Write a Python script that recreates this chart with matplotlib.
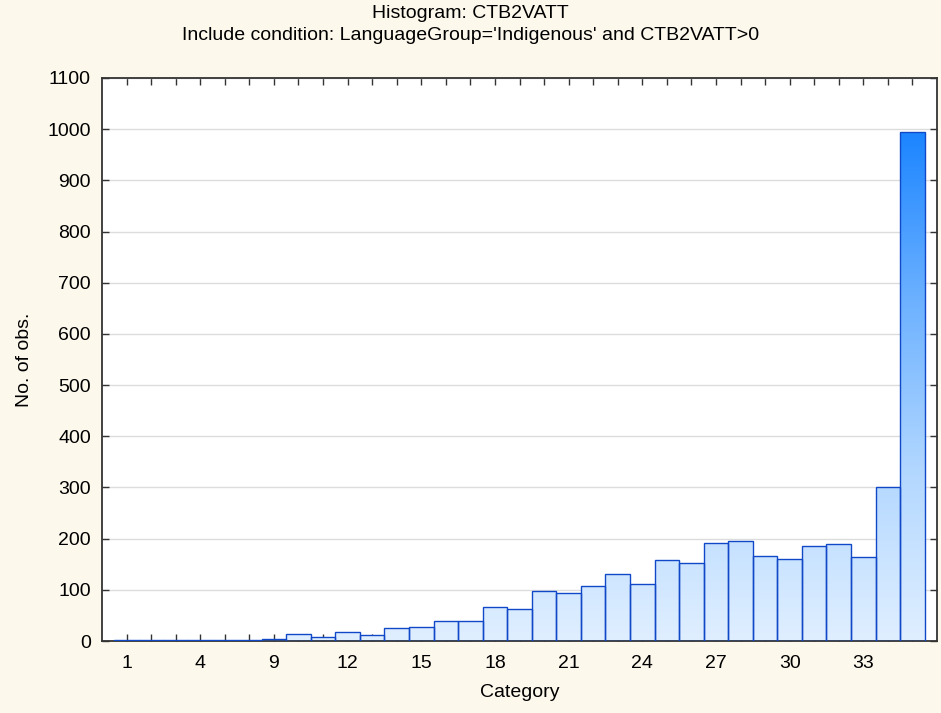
import numpy as np
import matplotlib
matplotlib.use("Agg")
import matplotlib.pyplot as plt
from matplotlib.colors import LinearSegmentedColormap

plt.rcParams['font.family'] = ['Liberation Sans', 'DejaVu Sans']

positions = list(range(1, 34))
counts = [1, 1, 1, 1, 1, 2, 4, 13, 8, 17, 12, 26, 27, 40, 40, 66, 63,
          97, 93, 108, 130, 112, 158, 153, 192, 195, 167, 160, 185, 189, 164,
          300, 995]
tick_positions = [1, 4, 7, 10, 13, 16, 19, 22, 25, 28, 31]
tick_labels = ['1', '4', '9', '12', '15', '18', '21', '24', '27', '30', '33']
yticks = list(range(0, 1101, 100))

title1 = "Histogram: CTB2VATT"
title2 = "Include condition: LanguageGroup='Indigenous' and CTB2VATT>0"

FS = 14

fig = plt.figure(figsize=(9.41, 7.13), dpi=100)
fig.patch.set_facecolor('#fdf8ec')
ax = fig.add_axes([102/941, 1-641/713, (937-102)/941, (641-78)/713])
ax.set_facecolor('white')

cmap = LinearSegmentedColormap.from_list('g', ['#e0efff', '#b2d7ff', '#6cb1ff', '#1a84ff'])
grad = np.linspace(0, 1, 256).reshape(-1, 1)

for x, c in zip(positions, counts):
    bars = ax.bar(x, c, width=1.0, facecolor='none', edgecolor='#1048c8',
                  linewidth=1.0, zorder=3)
    patch = bars[0]
    im = ax.imshow(grad, extent=[x-0.5, x+0.5, 0, 1000], origin='lower',
                   cmap=cmap, aspect='auto', zorder=2, interpolation='bilinear')
    im.set_clip_path(patch)

ax.set_xlim(0, 34)
ax.set_ylim(0, 1100)

ax.set_yticks(yticks)
ax.set_xticks(positions, minor=True)
ax.set_xticks(tick_positions)
ax.set_xticklabels(tick_labels)
ax.yaxis.grid(True, color='#dcdcdc', linewidth=1.0, zorder=0)
ax.set_axisbelow(True)

ax.tick_params(axis='both', which='both', direction='in', top=True, right=True,
               length=5, width=1.0, color='#333333', labelsize=FS)
ax.tick_params(axis='x', which='both', pad=10)
ax.tick_params(axis='y', which='both', pad=8)
for s in ax.spines.values():
    s.set_color('#333333')
    s.set_linewidth(1.3)

ax.set_xlabel('Category', fontsize=FS)
ax.xaxis.set_label_coords(0.5, -(684-641)/(641-78))
ax.set_ylabel('No. of obs.', fontsize=FS)
ax.yaxis.set_label_coords(-(102-33)/(937-102), 0.5)
fig.text(0.5, 1-14/713, title1, ha='center', va='center', fontsize=FS)
fig.text(0.5, 1-36/713, title2, ha='center', va='center', fontsize=FS)

fig.savefig('out.png', dpi=100, facecolor=fig.get_facecolor())
